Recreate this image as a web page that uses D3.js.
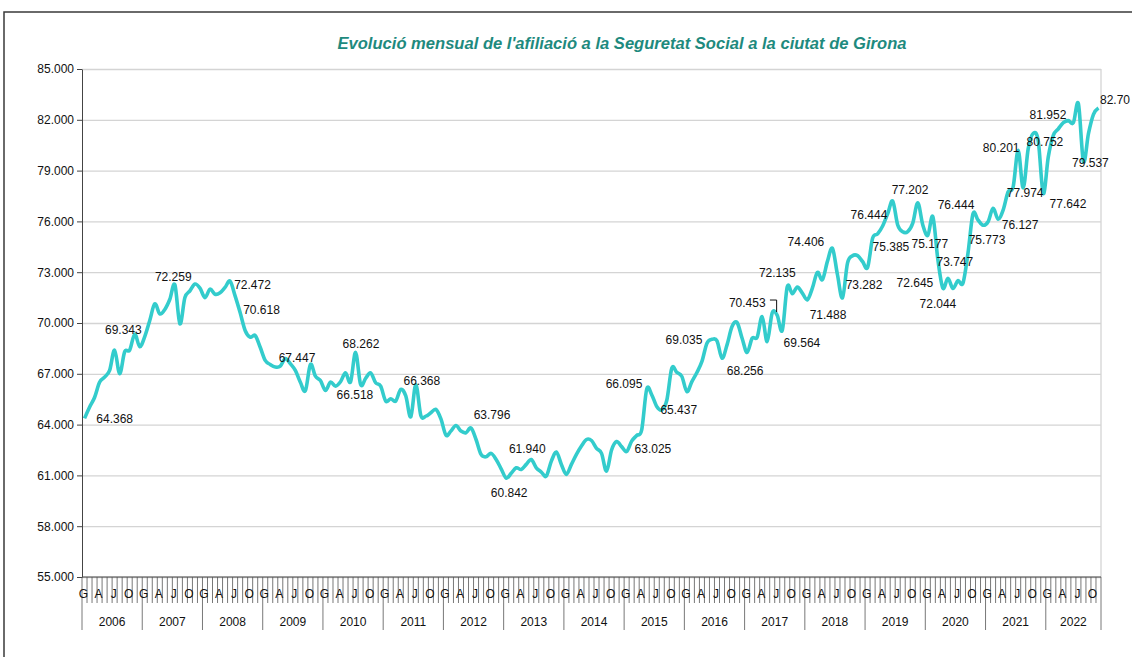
<!DOCTYPE html>
<html>
<head>
<meta charset="utf-8">
<script src="https://cdn.jsdelivr.net/npm/d3@7"></script>
<style>
  body { margin: 0; background: #fff; }
  text { font-family: "Liberation Sans", Arial, sans-serif; }
</style>
</head>
<body>
<div id="chart"></div>
<script>
// afiliats per mes, gener 2006 - novembre 2022
var afiliats = [
  64368, 65030, 65600, 66500, 66800, 67200, 68400, 67000, 68300, 68400, 69343, 68600, // 2006
  69200, 70150, 71130, 70540, 70800, 71400, 72259, 69950, 71500, 71900, 72300, 72060, // 2007
  71500, 72000, 71700, 71780, 72100, 72472, 71600, 70618, 69560, 69160, 69260, 68570, // 2008
  67790, 67550, 67400, 67447, 67900, 67600, 67200, 66500, 66000, 67550, 66860, 66600, // 2009
  66020, 66510, 66270, 66530, 67060, 66518, 68262, 66370, 66730, 67060, 66470, 66270, // 2010
  65390, 65530, 65390, 66080, 65690, 64460, 66368, 64540, 64500, 64700, 64900, 64340, // 2011
  63380, 63620, 63950, 63620, 63520, 63796, 63120, 62240, 62100, 62300, 61940, 61390, // 2012
  60842, 61120, 61450, 61350, 61650, 61940, 61450, 61200, 60960, 61840, 62380, 61650, // 2013
  61060, 61650, 62240, 62730, 63120, 63060, 62600, 62300, 61250, 62500, 63000, 62700, // 2014
  62410, 63025, 63360, 63690, 66095, 65760, 65070, 64870, 65437, 67330, 67080, 66840, // 2015
  65950, 66540, 67080, 67730, 68810, 69035, 68950, 67920, 68710, 69790, 70030, 69100, // 2016
  68256, 69100, 69160, 70380, 68900, 70600, 70453, 69564, 72135, 71730, 72120, 71770, // 2017
  71370, 72060, 72990, 72560, 73640, 74406, 72850, 71488, 73540, 73970, 73980, 73630, // 2018
  73282, 75000, 75260, 75730, 76444, 77202, 75790, 75385, 75400, 75900, 77100, 75790, // 2019
  75177, 76280, 73747, 72060, 72645, 72044, 72500, 72360, 74120, 76444, 76080, 75773, // 2020
  75980, 76770, 76127, 76670, 77750, 78040, 80201, 77974, 80300, 81200, 80752, 77642, // 2021
  79810, 81080, 81470, 81830, 81952, 81830, 82950, 79537, 81180, 82320, 82702         // 2022
];

var anys = ["2006","2007","2008","2009","2010","2011","2012","2013","2014",
            "2015","2016","2017","2018","2019","2020","2021","2022"];
var lletresMes = ["G", "", "", "A", "", "", "J", "", "", "O", "", ""];
var yTicks = [55000, 58000, 61000, 64000, 67000, 70000, 73000, 76000, 79000, 82000, 85000];

// mesos amb etiqueta de valor
var etiquetes = [0, 10, 18, 29, 31, 39, 53, 54, 66, 77, 84, 89, 109, 112, 116, 125, 132, 138, 139, 140,
                 149, 151, 156, 160, 161, 163, 168, 170, 172, 173, 177, 179, 182, 186, 187, 190, 191, 196, 199, 202];
// desplaçament de cada etiqueta respecte al punt
var despl = [[30.2,0.6],[-11.4,-4],[-1.6,-7.5],[22.4,4],[21.4,-2.5],[16.7,-8],[4.4,13],[5.4,-8.4],[6,-3.5],[21,-13],
             [3,15],[-4,-10.5],[21.3,8],[-22.7,-5],[12,9.7],[-28,0],[-2,18.5],[-30,-13],[19.7,12.6],[-10,-14],
             [-26.5,-7],[-14.5,17],[-3.6,17.6],[-18.7,1],[17.3,-11],[-11.8,15],[2,8.7],[17,2.4],[-33,5],[-15,15.6],
             [-17,-9],[4,14.8],[22,6],[-17,-2],[2,5],[6.7,1],[24.7,10.4],[-20.4,-5.6],[7,1.5],[16.5,-8]];

var W = 1132, H = 657;
var margin = {top: 69, right: 31, bottom: 80, left: 82},
    width = W - margin.left - margin.right,
    height = H - margin.top - margin.bottom;

var loc = d3.formatLocale({decimal: ",", thousands: ".", grouping: [3], currency: ["", "€"]});
var fmt = loc.format(",d");
// the last label is shown with two decimals only
var fmtLabel = function(d, k) {
  return k === etiquetes.length - 1 ? d3.format(".2f")(afiliats[d] / 1000) : fmt(afiliats[d]);
};

var svg = d3.select("#chart")
  .append("svg")
    .attr("width", W)
    .attr("height", H);

// marc exterior
svg.append("path")
  .attr("d", "M4," + H + "V12H" + W)
  .attr("fill", "none")
  .attr("stroke", "#3a3a3a")
  .attr("stroke-width", 1.5);

// title
svg.append("text")
  .attr("x", 622)
  .attr("y", 49)
  .attr("text-anchor", "middle")
  .attr("textLength", 569)
  .attr("lengthAdjust", "spacingAndGlyphs")
  .style("font-size", "16.5px")
  .style("font-weight", "bold")
  .style("font-style", "italic")
  .attr("fill", "#1e8a7e")
  .text("Evolució mensual de l'afiliació a la Seguretat Social a la ciutat de Girona");

var g = svg.append("g")
  .attr("transform", "translate(" + margin.left + "," + margin.top + ")");

var idx = d3.range(afiliats.length);
var x = d3.scaleBand().domain(idx).range([0, width]).padding(0);
var xEdge = d3.scaleLinear().domain([0, afiliats.length]).range([0, width]);
var y = d3.scaleLinear().domain([55000, 85000]).range([height, 0]);

// gridlines
g.append("g")
  .call(d3.axisLeft(y).tickValues(yTicks).tickSize(-width).tickFormat(""))
  .call(function(s) {
    s.select(".domain").remove();
    s.selectAll("line").attr("stroke", "#d4d4d4").attr("stroke-width", 1.3);
  });

// plot area right border
g.append("line")
  .attr("x1", width).attr("x2", width)
  .attr("y1", 0).attr("y2", height)
  .attr("stroke", "#d4d4d4").attr("stroke-width", 1.3);

// Y axis
g.append("g")
  .call(d3.axisLeft(y).tickValues(yTicks).tickSize(5).tickPadding(3).tickFormat(fmt).tickSizeOuter(0))
  .call(function(s) {
    s.select(".domain").attr("stroke", "#444");
    s.selectAll("line").attr("stroke", "#444");
    s.selectAll("text").style("font-size", "12px").attr("fill", "#111");
  });

// X axis
var xa = g.append("g").attr("transform", "translate(0," + height + ")");
xa.append("line")
  .attr("x1", 0).attr("x2", width)
  .attr("stroke", "#444");
xa.selectAll(".tm")
  .data(d3.range(afiliats.length + 1))
  .enter()
  .append("line")
    .attr("x1", function(d) { return xEdge(d); })
    .attr("x2", function(d) { return xEdge(d); })
    .attr("y1", 0)
    .attr("y2", function(d) { return d % 12 === 0 || d === afiliats.length ? 53 : 26; })
    .attr("stroke", "#555")
    .attr("stroke-width", 0.8);
xa.selectAll(".mes")
  .data(idx.filter(function(d) { return lletresMes[d % 12] !== ""; }))
  .enter()
  .append("text")
    .attr("x", function(d) { return x(d) + x.bandwidth() / 2 - 1; })
    .attr("y", 20.5)
    .attr("text-anchor", "middle")
    .style("font-size", "12px")
    .attr("fill", "#111")
    .text(function(d) { return lletresMes[d % 12]; });
xa.selectAll(".any")
  .data(anys)
  .enter()
  .append("text")
    .attr("x", function(d, i) {
      var a = i * 12, b = Math.min((i + 1) * 12, afiliats.length);
      return (xEdge(a) + xEdge(b)) / 2;
    })
    .attr("y", 49)
    .attr("text-anchor", "middle")
    .style("font-size", "12px")
    .attr("fill", "#111")
    .text(function(d) { return d; });

// line
var line = d3.line()
  .x(function(d, i) { return x(i) + x.bandwidth() / 2; })
  .y(function(d) { return y(d); })
  .curve(d3.curveCatmullRom.alpha(0));

g.append("path")
  .datum(afiliats)
  .attr("d", line)
  .attr("fill", "none")
  .attr("stroke", "#33cccc")
  .attr("stroke-width", 3.6)
  .attr("stroke-linejoin", "round");

// leader line for 70.453
var li = 138;
var lx = x(li) + x.bandwidth() / 2, ly = y(afiliats[li]);
g.append("path")
  .attr("d", "M" + (lx - 7.3) + "," + (ly - 15.3) + "H" + (lx - 0.6) + "V" + (ly - 3.3))
  .attr("fill", "none")
  .attr("stroke", "#111")
  .attr("stroke-width", 1);

// data labels
g.selectAll(".lbl")
  .data(etiquetes)
  .enter()
  .append("text")
    .attr("x", function(d, k) { return x(d) + x.bandwidth() / 2 + despl[k][0]; })
    .attr("y", function(d, k) { return y(afiliats[d]) + despl[k][1]; })
    .attr("dy", "0.35em")
    .attr("text-anchor", "middle")
    .style("font-size", "12px")
    .attr("fill", "#111")
    .text(fmtLabel);
</script>
</body>
</html>
